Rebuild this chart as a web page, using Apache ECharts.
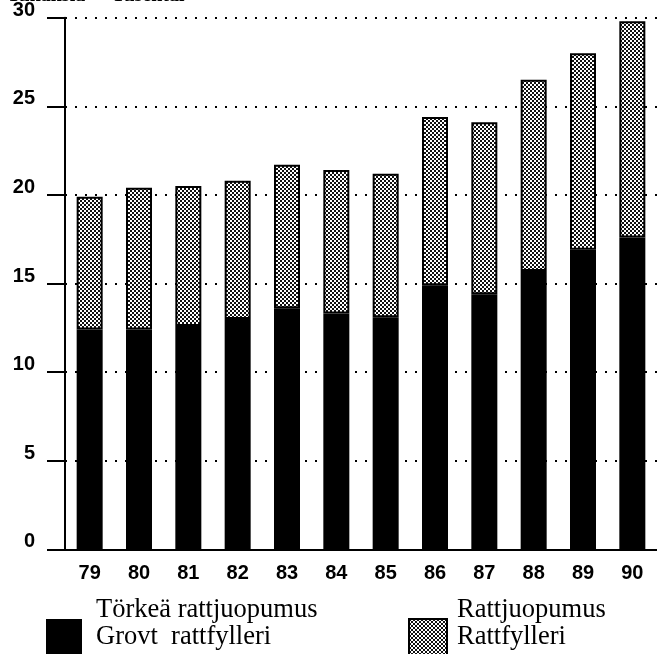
<!DOCTYPE html>
<html>
<head>
<meta charset="utf-8">
<script src="https://cdn.jsdelivr.net/npm/echarts@6/dist/echarts.min.js"></script>
<style>
  html, body { margin: 0; padding: 0; background: #fff; }
  #main { width: 657px; height: 654px; }
</style>
</head>
<body>
<div id="main"></div>
<script>
// vuodet / år
var years = ['79', '80', '81', '82', '83', '84', '85', '86', '87', '88', '89', '90'];
// Törkeä rattjuopumus (tuhansia)
var grovt = [12.4, 12.4, 12.6, 13.0, 13.6, 13.3, 13.1, 14.9, 14.4, 15.7, 16.9, 17.6];
// Rattjuopumus (tuhansia), pinottu päälle
var ratt = [7.5, 8.0, 7.9, 7.8, 8.1, 8.1, 8.1, 9.5, 9.7, 10.8, 11.1, 12.2];
var yTicks = [0, 5, 10, 15, 20, 25, 30];

var nameGrovt = 'Törkeä rattjuopumus\nGrovt  rattfylleri';
var nameRatt = 'Rattjuopumus\nRattfylleri';

// rasterikuvio harmaalle osalle
function makePattern() {
    var c = document.createElement('canvas');
    c.width = 4; c.height = 4;
    var ctx = c.getContext('2d');
    ctx.fillStyle = '#ffffff';
    ctx.fillRect(0, 0, 4, 4);
    ctx.fillStyle = '#111111';
    ctx.fillRect(0, 0, 2, 2);
    ctx.fillRect(2, 2, 2, 2);
    return c;
}
var pattern = { image: makePattern(), repeat: 'repeat' };

// tyhjä rivi perään, jotta teksti nousee ruudun yläpuolelle
function legendText(name) {
    return name + '\n ';
}

var myChart = echarts.init(document.getElementById('main'));
var option = {
    animation: false,
    title: {
        text: 'Tuhansia  -  Tusental',
        left: 7,
        top: -14,
        padding: 0,
        textStyle: { fontFamily: 'Liberation Serif', fontWeight: 'bold', fontSize: 20, color: '#000' }
    },
    grid: { left: 65, top: 17.7, width: 596, height: 531.6 },
    legend: [
        {
            data: [nameGrovt],
            icon: 'rect',
            left: 46,
            top: 596.5,
            padding: 0,
            itemWidth: 36,
            itemHeight: 36,
            selectedMode: false,
            formatter: legendText,
            textStyle: {
                fontFamily: 'Liberation Serif', fontSize: 26.5, lineHeight: 27, color: '#000',
                padding: [0, 0, 0, 9]
            }
        },
        {
            data: [nameRatt],
            icon: 'rect',
            left: 408,
            top: 596.5,
            padding: 0,
            itemWidth: 38,
            itemHeight: 36,
            selectedMode: false,
            formatter: legendText,
            textStyle: {
                fontFamily: 'Liberation Serif', fontSize: 26.5, lineHeight: 27, color: '#000',
                padding: [0, 0, 0, 5]
            }
        }
    ],
    xAxis: {
        type: 'category',
        data: years,
        axisLine: { lineStyle: { color: '#000', width: 2 } },
        axisTick: { show: false },
        axisLabel: {
            margin: 14,
            fontFamily: 'Liberation Sans', fontWeight: 'bold', fontSize: 20, color: '#000'
        }
    },
    yAxis: {
        type: 'value',
        min: 0,
        max: 30,
        interval: 5,
        axisLine: { show: true, lineStyle: { color: '#000', width: 2 } },
        axisTick: { show: true, length: 18, lineStyle: { color: '#000', width: 2 } },
        axisLabel: {
            margin: 30,
            verticalAlign: 'bottom',
            lineHeight: 15,
            fontFamily: 'Liberation Sans', fontWeight: 'bold', fontSize: 20, color: '#000',
            formatter: function (v) { return yTicks.indexOf(v) >= 0 ? String(v) : ''; }
        },
        splitLine: { lineStyle: { color: '#000', width: 2, type: [2, 8] } }
    },
    series: [
        {
            name: nameGrovt,
            type: 'bar',
            stack: 'total',
            barWidth: 26,
            data: grovt,
            itemStyle: { color: '#000' }
        },
        {
            name: nameRatt,
            type: 'bar',
            stack: 'total',
            barWidth: 26,
            data: ratt,
            itemStyle: { color: pattern, borderColor: '#000', borderWidth: 2 }
        }
    ]
};
myChart.setOption(option);
</script>
</body>
</html>
